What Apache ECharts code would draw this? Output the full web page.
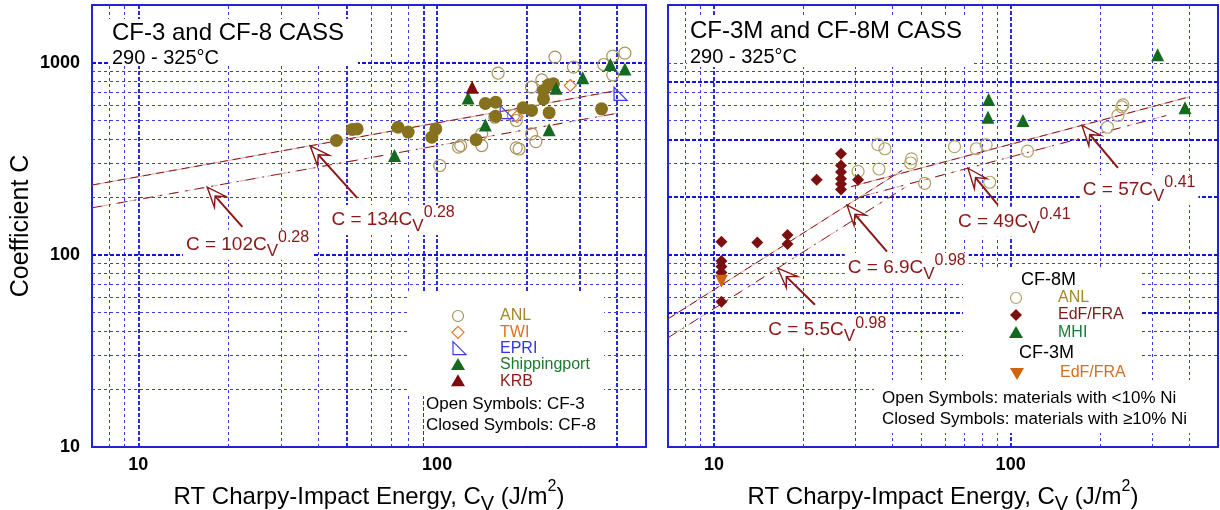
<!DOCTYPE html>
<html>
<head>
<meta charset="utf-8">
<script src="https://cdn.jsdelivr.net/npm/echarts@6/dist/echarts.min.js"></script>
<style>
  html, body { margin: 0; padding: 0; background: #fff; }
  #chart { width: 1220px; height: 510px; }
</style>
</head>
<body>
<div id="chart"></div>
<script>
// ---------- data: [Charpy-impact energy Cv, coefficient C] ----------
// CF-3 / CF-8 cast stainless steels
const cf3AnlOpen = [[248,1070],[286,950],[160,884],[361,980],[387,1083],[425,1123],[387,866],[224,815],
  [207,747],[180,532],[184,501],[156,521],[207,427],[214,389],[141,427],[141,371],[120,371],[118,364],
  [184,361],[188,356],[102,292]];
const cf8AnlClosed = [[46,394],[52,450],[54,453],[74,462],[80,436],[99,453],[96,410],[135,398],[145,614],
  [157,624],[157,527],[194,583],[207,565],[227,718],[236,768],[245,778],[227,649],[237,550],[355,576]];
const cf3Twi = [[279,762],[185,525]];
const cf3Epri = [[171,554],[411,690]];
const cf8Shippingport = [[72,329],[127,655],[145,475],[250,738],[237,448],[307,835],[380,980],[425,930]];
const cf8Krb = [[131,747]];

// CF-3M / CF-8M cast stainless steels
const cf8mAnl = [[35.7,375],[37.7,357],[30.6,272],[36,280],[46.3,316],[46,301],[51.3,236],[64.7,366],
  [76.6,357],[82.7,374],[114,347],[85,239],[212,462],[230,532],[239,604],[237,590]];
const cf8mEdf = [[22.2,246],[26.8,336],[26.8,292],[26.8,270],[26.8,249],[26.8,234],[26.8,219],[30.6,246],
  [10.6,117],[14,116],[17.7,127],[17.7,114],[10.6,93],[10.6,87],[10.6,81],[10.6,57]];
const cf8mMhi = [[84.3,644],[83.9,521],[110,501],[313,1101],[387,583]];
const cf3mEdf = [[10.6,73]];

// fitted curves C = a * Cv^b and the Cv span each one covers
const fitsLeft = [
  { a: 134, b: 0.28, from: 7, to: 400, kind: 'upper' },
  { a: 102, b: 0.28, from: 7, to: 400, kind: 'lower' }
];
const fitsRight = [
  { a: 57, b: 0.41, from: 29, to: 400, kind: 'upper' },
  { a: 49, b: 0.41, from: 31, to: 335, kind: 'lower' },
  { a: 6.9, b: 0.98, from: 7, to: 43, kind: 'upper' },
  { a: 5.5, b: 0.98, from: 7, to: 45, kind: 'lower' }
];

// equation callouts: arrow tip sits on the curve at tipCv, tail and label in data units
const notesLeft = [
  { a: 134, b: 0.28, tipCv: 37.6, tail: [54, 198], label: [43.3, 152], coef: '134', exp: '0.28' },
  { a: 102, b: 0.28, tipCv: 17, tail: [22.3, 140], label: [14.1, 113], coef: '102', exp: '0.28' }
];
const notesRight = [
  { a: 5.5, b: 0.98, tipCv: 16.4, tail: [21.9, 55], label: [14.9, 40.6], coef: '5.5', exp: '0.98' },
  { a: 6.9, b: 0.98, tipCv: 28.1, tail: [38.3, 104], label: [27.6, 85.5], coef: '6.9', exp: '0.98' },
  { a: 49, b: 0.41, tipCv: 71.8, tail: [90.6, 182], label: [64.9, 149], coef: '49', exp: '0.41' },
  { a: 57, b: 0.41, tipCv: 174, tail: [230, 284], label: [171, 218], coef: '57', exp: '0.41' }
];

// axis ranges and grid-line positions
const xRange = [7, 500];
const yRange = [10, 2000];
const xGridMajorLeft = [10, 50, 90, 100, 200, 300, 400];
const xGridMinorLeft = [8, 9, 20, 30, 40, 60, 70, 80];
const yGridMajorLeft = [100, 1000];
const yGridMinorLeft = [20, 30, 40, 50, 60, 70, 80, 90, 200, 300, 400, 500, 600, 700, 800, 900];
const xGridMajorRight = [10, 100];
const xGridMinorRight = [8, 9, 20, 30, 40, 50, 60, 70, 80, 90, 200, 300, 400];
const yGridMajorRight = [50, 100, 200, 400, 800];
const yGridMinorRight = [20, 30, 40, 60, 70, 80, 90, 300, 500, 600, 700, 900, 1000];

// ---------- styling ----------
const FONT = "'Liberation Sans', Arial, Helvetica, sans-serif";
const BLUE = '#2222d8';
const INK = '#000';
const DARKRED = '#8a1616';
const PINK = '#d9a6a6';
const C_ANL_FILL = '#86711f';
const C_ANL_OPEN = '#a8955e';
const C_ANL_OPEN_R = '#b3a46c';
const C_TWI = '#e07a30';
const C_EPRI = '#3a3ae6';
const C_GREEN = '#146a1e';
const C_KRB = '#7c0b0b';
const C_EDF = '#7a1010';
const C_EDF3 = '#d0650f';

function gridSeries(gi, xMaj, xMin, yMaj, yMin) {
  const minor = { color: '#3b3be4', width: 1, type: [3, 3] };
  const major = { color: '#1414d6', width: 1.8, type: [4, 2] };
  const data = [];
  xMin.forEach(v => data.push({ xAxis: v, lineStyle: minor }));
  xMaj.forEach(v => data.push({ xAxis: v, lineStyle: major }));
  yMin.forEach(v => data.push({ yAxis: v, lineStyle: minor }));
  yMaj.forEach(v => data.push({ yAxis: v, lineStyle: major }));
  return {
    type: 'line', xAxisIndex: gi, yAxisIndex: gi, data: [[10, 100]],
    symbol: 'none', showSymbol: false, silent: true, lineStyle: { opacity: 0 }, z: 1,
    markLine: {
      z: 1, silent: true, symbol: ['none', 'none'], label: { show: false },
      emphasis: { disabled: true }, animation: false, data: data
    }
  };
}

function scatter(name, data, gi, symbol, size, fill, stroke, rotate) {
  const itemStyle = fill
    ? { color: fill, borderWidth: 0, opacity: 1 }
    : { color: 'rgba(255,255,255,0)', borderColor: stroke, borderWidth: 1.2, opacity: 1 };
  return {
    type: 'scatter', name: name, xAxisIndex: gi, yAxisIndex: gi, data: data,
    symbol: symbol, symbolSize: size, symbolRotate: rotate || 0, symbolKeepAspect: true,
    itemStyle: itemStyle, z: 3, emphasis: { disabled: true }, animation: false
  };
}

function fitSeries(f, gi) {
  const pts = [[f.from, f.a * Math.pow(f.from, f.b)], [f.to, f.a * Math.pow(f.to, f.b)]];
  const upper = f.kind === 'upper';
  const base = { type: 'line', xAxisIndex: gi, yAxisIndex: gi, data: pts, symbol: 'none',
    showSymbol: false, silent: true, z: 2, animation: false };
  return [
    Object.assign({}, base, { lineStyle: { color: PINK, width: 1, type: upper ? 'solid' : [6, 8], dashOffset: 4 } }),
    Object.assign({}, base, { lineStyle: { color: DARKRED, width: 1, type: upper ? [8, 5] : [10, 7, 2, 7] } })
  ];
}

function tickFormatter(v) {
  const l = Math.log10(v);
  return Math.abs(l - Math.round(l)) < 1e-6 ? String(Math.round(v)) : '';
}

function xAxisCfg(gi) {
  return {
    type: 'log', logBase: 10, gridIndex: gi, min: xRange[0], max: xRange[1],
    axisLine: { show: false }, axisTick: { show: false }, splitLine: { show: false },
    axisLabel: {
      show: true, margin: 9, fontFamily: FONT, fontSize: 18, fontWeight: 'bold', color: INK,
      showMinLabel: false, showMaxLabel: false, formatter: tickFormatter
    },
    name: '{b|RT Charpy-Impact Energy, C}{s|V}{b| (J/m}{p|2}{b|)}',
    nameLocation: 'middle', nameGap: 27,
    nameTextStyle: {
      rich: {
        b: { fontFamily: FONT, fontSize: 24, lineHeight: 36, color: INK },
        s: { fontFamily: FONT, fontSize: 20, lineHeight: 16, verticalAlign: 'bottom', color: INK },
        p: { fontFamily: FONT, fontSize: 16, lineHeight: 16, verticalAlign: 'top', color: INK }
      }
    }
  };
}

function yAxisCfg(gi, withLabels) {
  return {
    type: 'log', logBase: 10, gridIndex: gi, min: yRange[0], max: yRange[1],
    axisLine: { show: false }, axisTick: { show: false }, splitLine: { show: false },
    axisLabel: {
      show: withLabels, margin: 12, fontFamily: FONT, fontSize: 18, fontWeight: 'bold', color: INK,
      showMaxLabel: false, formatter: tickFormatter
    },
    name: withLabels ? 'Coefficient C' : '',
    nameLocation: 'middle', nameGap: 53,
    nameTextStyle: { fontFamily: FONT, fontSize: 25, lineHeight: 30, color: INK }
  };
}

const series = [
  gridSeries(0, xGridMajorLeft, xGridMinorLeft, yGridMajorLeft, yGridMinorLeft),
  gridSeries(1, xGridMajorRight, xGridMinorRight, yGridMajorRight, yGridMinorRight),
  ...fitsLeft.flatMap(f => fitSeries(f, 0)),
  ...fitsRight.flatMap(f => fitSeries(f, 1)),
  scatter('ANL CF-3', cf3AnlOpen, 0, 'circle', 12, null, C_ANL_OPEN),
  scatter('TWI', cf3Twi, 0, 'diamond', 12, null, C_TWI),
  scatter('EPRI', cf3Epri, 0, 'path://M0,0 L0,12 L12,12 Z', 13, null, C_EPRI),
  scatter('ANL CF-8', cf8AnlClosed, 0, 'circle', 13, C_ANL_FILL),
  scatter('Shippingport', cf8Shippingport, 0, 'triangle', 13, C_GREEN),
  scatter('KRB', cf8Krb, 0, 'triangle', 13, C_KRB),
  scatter('ANL CF-8M', cf8mAnl, 1, 'circle', 12, null, C_ANL_OPEN_R),
  scatter('EdF/FRA CF-8M', cf8mEdf, 1, 'diamond', 12, C_EDF),
  scatter('MHI', cf8mMhi, 1, 'triangle', 13, C_GREEN),
  scatter('EdF/FRA CF-3M', cf3mEdf, 1, 'triangle', 13, C_EDF3, null, 180)
];

const chart = echarts.init(document.getElementById('chart'), null, { renderer: 'canvas' });
const gridBase = { top: 5, bottom: 63, show: true, borderColor: BLUE, borderWidth: 2,
  backgroundColor: 'transparent', containLabel: false, outerBoundsMode: 'none' };
chart.setOption({
  animation: false,
  backgroundColor: '#fff',
  grid: [
    Object.assign({ left: 92, right: 574 }, gridBase),
    Object.assign({ left: 668, right: 2 }, gridBase)
  ],
  xAxis: [xAxisCfg(0), xAxisCfg(1)],
  yAxis: [yAxisCfg(0, true), yAxisCfg(1, false)],
  series: series
});

// ---------- annotations (titles, callouts, legends) ----------
const gfx = [];
function whiteBox(x, y, w, h) {
  gfx.push({ type: 'rect', z: 2.5, silent: true, shape: { x: x, y: y, width: w, height: h }, style: { fill: '#fff' } });
}
function text(str, x, y, size, color, extra) {
  gfx.push({ type: 'text', z: 10, silent: true, x: x, y: y,
    style: Object.assign({ text: str, fontFamily: FONT, fontSize: size, fill: color, align: 'left', verticalAlign: 'middle' }, extra || {}) });
}
function marker(kind, x, y, color, open) {
  const st = open ? { fill: '#fff', stroke: color, lineWidth: 1.2 } : { fill: color };
  let el;
  if (kind === 'circle') el = { type: 'circle', shape: { cx: x, cy: y, r: 5.5 } };
  else if (kind === 'diamond') el = { type: 'polygon', shape: { points: [[x, y - 6], [x + 6, y], [x, y + 6], [x - 6, y]] } };
  else if (kind === 'triangle') el = { type: 'polygon', shape: { points: [[x, y - 7], [x + 7, y + 5], [x - 7, y + 5]] } };
  else if (kind === 'down') el = { type: 'polygon', shape: { points: [[x - 7, y - 5], [x + 7, y - 5], [x, y + 7]] } };
  else el = { type: 'polygon', shape: { points: [[x - 5, y - 7], [x - 5, y + 6], [x + 8, y + 6]] } };
  el.z = 10; el.silent = true; el.style = st;
  gfx.push(el);
}
function arrow(tip, tail) {
  const dx = tip[0] - tail[0], dy = tip[1] - tail[1];
  const len = Math.hypot(dx, dy), ux = dx / len, uy = dy / len, nx = -uy, ny = ux;
  const H = 20, N = 12, W = 8;
  const notch = [tip[0] - ux * N, tip[1] - uy * N];
  gfx.push({ type: 'line', z: 9, silent: true, shape: { x1: notch[0], y1: notch[1], x2: tail[0], y2: tail[1] },
    style: { stroke: DARKRED, lineWidth: 2 } });
  gfx.push({ type: 'polygon', z: 9, silent: true, shape: { points: [
      tip, [tip[0] - ux * H + nx * W, tip[1] - uy * H + ny * W], notch, [tip[0] - ux * H - nx * W, tip[1] - uy * H - ny * W]] },
    style: { fill: '#fff', stroke: DARKRED, lineWidth: 1.4 } });
}
const eqRich = {
  b: { fontFamily: FONT, fontSize: 19, lineHeight: 30, fill: DARKRED },
  s: { fontFamily: FONT, fontSize: 17, lineHeight: 15, verticalAlign: 'bottom', fill: DARKRED },
  p: { fontFamily: FONT, fontSize: 16, lineHeight: 20, verticalAlign: 'top', fill: DARKRED }
};
function callouts(list, gi) {
  list.forEach(n => {
    const tip = chart.convertToPixel({ gridIndex: gi }, [n.tipCv, n.a * Math.pow(n.tipCv, n.b)]);
    const tail = chart.convertToPixel({ gridIndex: gi }, n.tail);
    const lab = chart.convertToPixel({ gridIndex: gi }, n.label);
    arrow(tip, tail);
    gfx.push({ type: 'text', z: 8, silent: true, x: lab[0], y: lab[1],
      style: { text: '{b|C = ' + n.coef + 'C}{s|V}{p|' + n.exp + '}', rich: eqRich, align: 'left', verticalAlign: 'middle',
        backgroundColor: '#fff', padding: [0, 3, 0, 3] } });
  });
}

// white panels behind titles and legends
whiteBox(108, 19, 250, 47);
whiteBox(687, 15, 284, 52);
whiteBox(408, 292, 196, 104);
whiteBox(424, 396, 189, 50);
whiteBox(963, 268, 177, 112);
whiteBox(874, 380, 343, 53);

// titles
text('CF-3 and CF-8 CASS', 112, 33, 24, INK);
text('290 - 325°C', 112, 58, 20, INK);
text('CF-3M and CF-8M CASS', 690, 31, 24, INK);
text('290 - 325°C', 690, 57, 20, INK);

callouts(notesLeft, 0);
callouts(notesRight, 1);

// legend, CF-3 / CF-8 panel
const legendLeft = [
  ['circle', C_ANL_OPEN, true, 'ANL', '#a8862a'],
  ['diamond', C_TWI, true, 'TWI', '#e07020'],
  ['rtri', C_EPRI, true, 'EPRI', '#3535e0'],
  ['triangle', C_GREEN, false, 'Shippingport', '#1f7a2f'],
  ['triangle', C_KRB, false, 'KRB', '#8b1a1a']
];
legendLeft.forEach((it, i) => {
  const y = 316 + i * 16.3;
  marker(it[0], 458, y, it[1], it[2]);
  text(it[3], 500, y, 16, it[4]);
});
text('Open Symbols: CF-3', 426, 404, 17, INK);
text('Closed Symbols: CF-8', 426, 425, 17, INK);

// legend, CF-3M / CF-8M panel
text('CF-8M', 1021, 280, 18, INK);
marker('circle', 1016, 298, C_ANL_OPEN_R, true);  text('ANL', 1058, 298, 16, '#a8862a');
marker('diamond', 1016, 315, C_EDF, false);       text('EdF/FRA', 1058, 315, 16, '#7a1a1a');
marker('triangle', 1016, 333, C_GREEN, false);    text('MHI', 1058, 333, 16, '#1a7a3a');
text('CF-3M', 1019, 353, 18, INK);
marker('down', 1017, 373, C_EDF3, false);         text('EdF/FRA', 1060, 373, 16, '#d07020');
text('Open Symbols: materials with <10% Ni', 882, 398, 17, INK);
text('Closed Symbols: materials with ≥10% Ni', 882, 419, 17, INK);

chart.setOption({ graphic: { elements: gfx } });
</script>
</body>
</html>
